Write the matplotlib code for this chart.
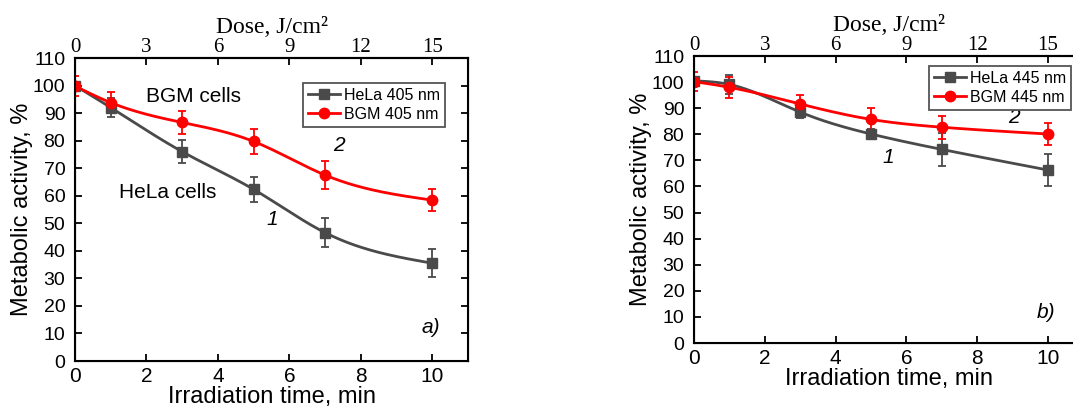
import numpy as np
import matplotlib
matplotlib.use('Agg')
from matplotlib import pyplot as plt

# time points, min
t = [0, 1, 3, 5, 7, 10]

# panel a) 405 nm
hela405 = [100, 92, 76, 62.3, 46.6, 35.5]
hela405_err = [0, 3.5, 4.1, 4.5, 5.3, 5.1]
bgm405 = [99.8, 93.8, 86.6, 79.7, 67.5, 58.4]
bgm405_err = [3.7, 3.7, 4.2, 4.4, 5.1, 4.1]

# panel b) 445 nm
hela445 = [100.5, 99.1, 88.5, 80.1, 74.2, 66.3]
hela445_err = [0, 3.5, 2.4, 1.9, 6.4, 6.0]
bgm445 = [100.2, 98.0, 91.6, 85.7, 82.7, 80.1]
bgm445_err = [3.6, 4.0, 3.4, 4.5, 4.4, 4.2]

dose_ticks = [0, 3, 6, 9, 12, 15]
y_ticks = list(range(0, 111, 10))

gray = '#4a4a4a'
red = '#ff0000'
sans = 'Liberation Sans'
serif = 'Liberation Serif'


def spline(x, y, n=200):
    # natural cubic spline through the points, only for drawing the line
    x = np.asarray(x, float)
    y = np.asarray(y, float)
    k = len(x)
    h = np.diff(x)
    A = np.zeros((k, k))
    b = np.zeros(k)
    A[0, 0] = A[-1, -1] = 1
    for i in range(1, k - 1):
        A[i, i - 1] = h[i - 1]
        A[i, i] = 2 * (h[i - 1] + h[i])
        A[i, i + 1] = h[i]
        b[i] = 6 * ((y[i + 1] - y[i]) / h[i] - (y[i] - y[i - 1]) / h[i - 1])
    m = np.linalg.solve(A, b)
    xs = np.linspace(x[0], x[-1], n)
    j = np.clip(np.searchsorted(x, xs) - 1, 0, k - 2)
    dx = xs - x[j]
    hj = h[j]
    c = (y[j + 1] - y[j]) / hj - hj * (2 * m[j] + m[j + 1]) / 6
    ys = y[j] + c * dx + m[j] / 2 * dx ** 2 + (m[j + 1] - m[j]) / (6 * hj) * dx ** 3
    return xs, ys


def panel(ax, h, he, g, ge, lab_h, lab_g, show_right):
    for y, e, col, mk, ms, lab in [(h, he, gray, 's', 6.5, lab_h),
                                   (g, ge, red, 'o', 7.5, lab_g)]:
        xs, ys = spline(t, y)
        ax.plot(xs, ys, color=col, lw=2, zorder=3)
        ax.errorbar(t, y, yerr=e, fmt='none', ecolor=col, elinewidth=1.3,
                    capsize=3, capthick=1.3, zorder=3)
        ax.plot(t, y, mk, color=col, ms=ms, zorder=4)
        ax.plot([], [], color=col, lw=2, marker=mk, ms=ms, label=lab)

    ax.set_xlim(0, 11)
    ax.set_ylim(0, 110)
    ax.set_yticks(y_ticks)
    ax.set_xticks([0, 2, 4, 6, 8, 10])
    ax.tick_params(direction='in', length=5, width=1.3, right=show_right)
    ax.tick_params(axis='y', labelsize=14, pad=7)
    ax.tick_params(axis='x', labelsize=15, pad=4)
    for lbl in ax.get_xticklabels() + ax.get_yticklabels():
        lbl.set_family(sans)
    for s in ax.spines.values():
        s.set_linewidth(1.5)
    ax.set_xlabel('Irradiation time, min', fontsize=17, family=sans, labelpad=0)
    ax.set_ylabel('Metabolic activity, %', fontsize=17, family=sans, labelpad=0)

    top = ax.twiny()
    top.set_xlim(0, 16.5)
    top.set_xticks(dose_ticks)
    top.tick_params(direction='in', length=5, width=1.3, labelsize=15, pad=1)
    for lbl in top.get_xticklabels():
        lbl.set_family(serif)
    top.set_xlabel('Dose, J/cm\u00b2', fontsize=17, family=serif, labelpad=3)
    top.spines['top'].set_linewidth(1.5)
    return top


def legend(ax, anchor, loc):
    leg = ax.legend(loc=loc, bbox_to_anchor=anchor, bbox_transform=fig.transFigure,
                    prop={'family': sans, 'size': 11.5}, frameon=True, fancybox=False,
                    edgecolor='#555555', framealpha=1, handlelength=2.0,
                    borderpad=0.3, labelspacing=0.25, handletextpad=0.25,
                    borderaxespad=0)
    leg.get_frame().set_linewidth(1.3)


fig = plt.figure(figsize=(10.73, 4.11), dpi=100, facecolor='white')
W, H = 1073.0, 411.0

# panel a)
ax1 = fig.add_axes([75 / W, 1 - 361 / H, 393 / W, 303 / H])
panel(ax1, hela405, hela405_err, bgm405, bgm405_err,
      'HeLa 405 nm', 'BGM 405 nm', True)
legend(ax1, (445 / W, 1 - 83 / H), 'upper right')
ax1.text(3.33, 96, 'BGM cells', fontsize=15, family=sans, ha='center', va='center')
ax1.text(2.6, 61, 'HeLa cells', fontsize=15, family=sans, ha='center', va='center')
ax1.text(5.53, 51.2, '1', fontsize=15, family=sans, style='italic', ha='center', va='center')
ax1.text(7.4, 78.4, '2', fontsize=15, family=sans, style='italic', ha='center', va='center')
ax1.text(9.97, 12, 'a)', fontsize=15, family=sans, style='italic', ha='center', va='center')

# panel b)
ax2 = fig.add_axes([694 / W, 1 - 343 / H, 389.4 / W, 287 / H])
panel(ax2, hela445, hela445_err, bgm445, bgm445_err,
      'HeLa 445 nm', 'BGM 445 nm', False)
legend(ax2, (929 / W, 1 - 66 / H), 'upper left')
ax2.text(5.5, 71, '1', fontsize=15, family=sans, style='italic', ha='center', va='center')
ax2.text(9.05, 86.5, '2', fontsize=15, family=sans, style='italic', ha='center', va='center')
ax2.text(9.95, 11.5, 'b)', fontsize=15, family=sans, style='italic', ha='center', va='center')

fig.savefig('out.png', dpi=100)
